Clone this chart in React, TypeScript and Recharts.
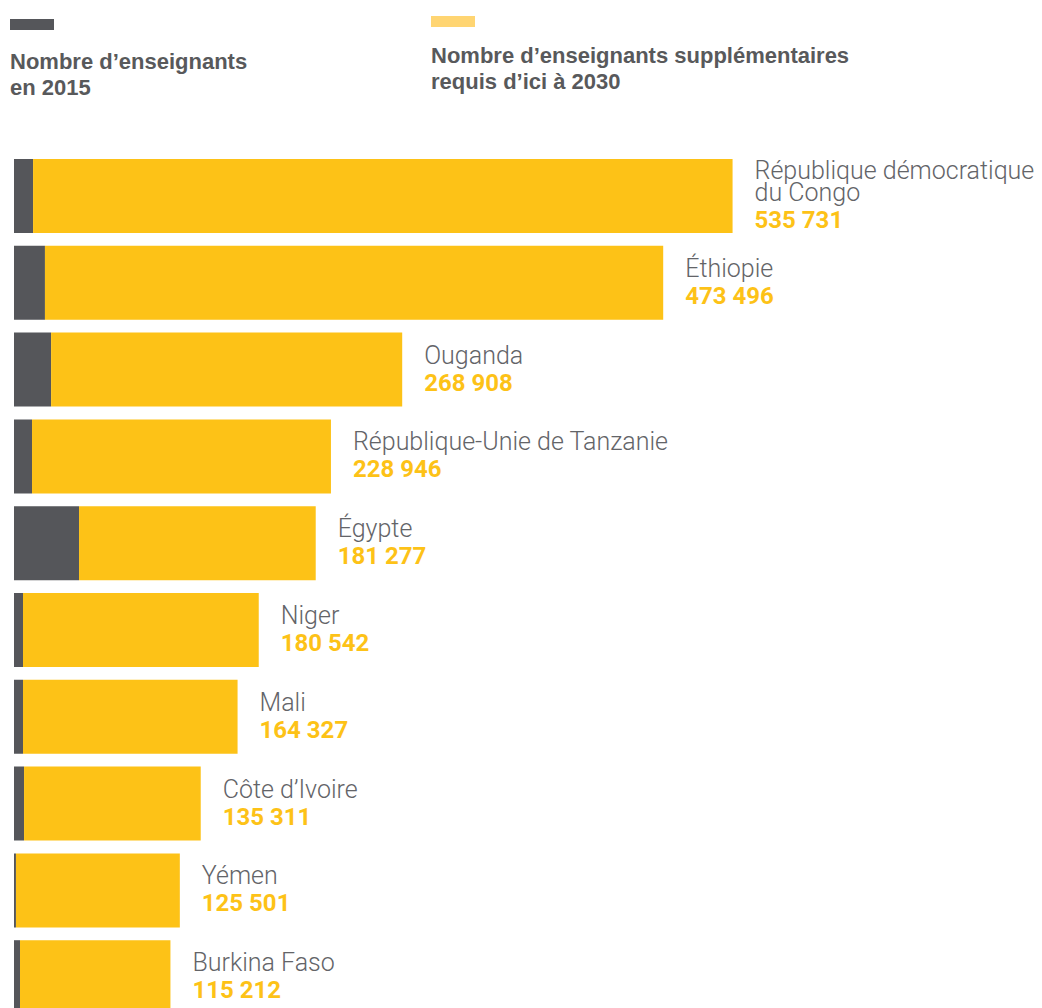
import { Bar, BarChart, LabelList, XAxis, YAxis } from "recharts"

const countries = [
  "République démocratique\ndu Congo",
  "Éthiopie",
  "Ouganda",
  "République-Unie de Tanzanie",
  "Égypte",
  "Niger",
  "Mali",
  "Côte d’Ivoire",
  "Yémen",
  "Burkina Faso",
]
// dark segment
const teachers2015 = [14600, 23700, 28400, 13800, 49800, 6900, 6900, 7700, 1500, 4600]
const additional2030 = [535731, 473496, 268908, 228946, 181277, 180542, 164327, 135311, 125501, 115212]

const legendLabels = ["Nombre d’enseignants\nen 2015", "Nombre d’enseignants supplémentaires\nrequis d’ici à 2030"]

const DARK = "#55565a"
const YELLOW = "#fdc217"
const LEGEND_YELLOW = "#ffd572"
const TEXT = "#636468"
const LEGEND_TEXT = "#58595b"

const data = countries.map((name, i) => ({
  name,
  teachers2015: teachers2015[i],
  additional: additional2030[i],
}))

const fmt = (v: number) => v.toLocaleString("en-US").replace(/,/g, " ")

function CountryLabel(props: any) {
  const { x, y, width, height, index } = props
  const lines = countries[index].split("\n")
  const cx = x + width + 22
  const cy = y + height / 2
  const first = cy - 6 - (lines.length - 1) * 11
  const last = first + (lines.length - 1) * 22
  return (
    <g>
      <text x={cx} y={first} fill={TEXT} fontSize={25} fontWeight={300} fontFamily="Roboto, sans-serif">
        {lines.map((l, k) => (
          <tspan key={k} x={cx} dy={k === 0 ? 0 : 22}>
            {l}
          </tspan>
        ))}
      </text>
      <text x={cx} y={last + 27} fill={YELLOW} fontSize={24} fontWeight={700} fontFamily="Roboto, sans-serif">
        {fmt(additional2030[index])}
      </text>
    </g>
  )
}

function LegendItem({ left, top, textTop, color, label }: { left: number; top: number; textTop: number; color: string; label: string }) {
  return (
    <div style={{ position: "absolute", left, top }}>
      <div style={{ width: 44, height: 11, background: color }} />
      <div
        style={{
          marginTop: textTop,
          fontFamily: "'Liberation Sans', Arial, sans-serif",
          fontWeight: 700,
          fontSize: 22,
          lineHeight: "26px",
          color: LEGEND_TEXT,
          whiteSpace: "pre",
        }}
      >
        {label}
      </div>
    </div>
  )
}

export default function App() {
  return (
    <div
      style={{
        position: "absolute",
        left: 0,
        top: 0,
        width: 1042,
        height: 1008,
        overflow: "hidden",
        background: "#fff",
      }}
    >
      <LegendItem left={10} top={19} textTop={19} color={DARK} label={legendLabels[0]} />
      <LegendItem left={431} top={16} textTop={16} color={LEGEND_YELLOW} label={legendLabels[1]} />
      <div style={{ position: "absolute", left: 0, top: 0 }}>
        <BarChart
          width={1042}
          height={1031}
          data={data}
          layout="vertical"
          margin={{ top: 153, right: 114, bottom: 10, left: 14 }}
          style={{ overflow: "visible" }}
        >
          <XAxis type="number" domain={[0, 700000]} hide />
          <YAxis type="category" dataKey="name" hide />
          <Bar dataKey="teachers2015" stackId="a" fill={DARK} barSize={74} isAnimationActive={false} />
          <Bar dataKey="additional" stackId="a" fill={YELLOW} barSize={74} isAnimationActive={false}>
            <LabelList dataKey="additional" content={(p: any) => <CountryLabel {...p} />} />
          </Bar>
        </BarChart>
      </div>
    </div>
  )
}
